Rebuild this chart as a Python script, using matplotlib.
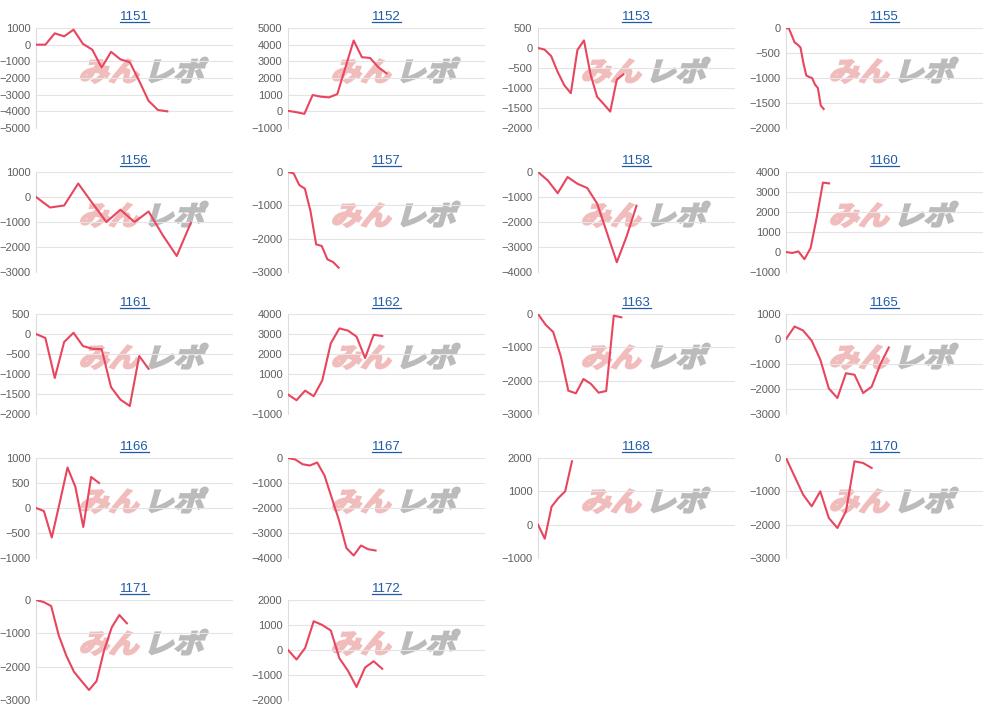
import matplotlib
matplotlib.use('Agg')
import matplotlib.pyplot as plt
import numpy as np
from matplotlib.textpath import TextPath
from matplotlib.patches import PathPatch
from matplotlib.font_manager import FontProperties
from matplotlib.transforms import Affine2D
from matplotlib.lines import Line2D

plt.rcParams['font.family'] = ['Liberation Sans', 'DejaVu Sans']

# machine numbers (panel titles)
titles = ['1151', '1152', '1153', '1155',
          '1156', '1157', '1158', '1160',
          '1161', '1162', '1163', '1165',
          '1166', '1167', '1168', '1170',
          '1171', '1172']

# cumulative difference per panel
s1151 = [0, 0, 680, 500, 900, 50, -300, -1380, -430, -880, -1050, -2180, -3370, -3920, -4000]
s1152 = [30, -50, -150, 980, 880, 840, 1030, 2640, 4250, 3250, 3200, 2650, 2280]
s1153 = [0, -40, -200, -600, -930, -1130, -50, 190, -660, -1220, -1400, -1590, -790, -660]
s1155 = [0, -10, -150, -290, -330, -390, -700, -950, -980, -1000, -1130, -1200, -1550, -1620]
s1156 = [0, -420, -340, 540, -240, -1000, -510, -1000, -580, -1520, -2360, -1040]
s1157 = [0, -40, -390, -500, -1180, -2170, -2220, -2620, -2700, -2870]
s1158 = [0, -340, -850, -200, -470, -640, -1260, -2430, -3610, -2570, -1350]
s1160 = [0, -50, 30, -360, 200, 1740, 3470, 3430]
s1161 = [0, -100, -1100, -200, 30, -300, -370, -380, -1330, -1640, -1800, -550, -870]
s1162 = [-30, -310, 170, -110, 680, 2540, 3280, 3170, 2870, 1800, 2960, 2900]
s1163 = [0, -320, -540, -1260, -2300, -2380, -1950, -2100, -2360, -2310, -50, -100]
s1165 = [0, 500, 340, -70, -820, -1980, -2360, -1370, -1430, -2160, -1910, -1020, -340]
s1166 = [0, -60, -590, 100, 810, 420, -380, 620, 500]
s1167 = [0, -60, -250, -300, -180, -700, -1600, -2500, -3600, -3900, -3500, -3650, -3700]
s1168 = [0, -420, 540, 800, 1000, 1900]
s1170 = [0, -550, -1100, -1450, -1000, -1800, -2100, -1600, -100, -150, -300]
s1171 = [0, -60, -180, -1060, -1670, -2150, -2430, -2700, -2430, -1500, -820, -450, -700]
s1172 = [0, -380, 80, 1150, 1000, 780, -330, -830, -1480, -700, -450, -750]

series = [s1151, s1152, s1153, s1155, s1156, s1157, s1158, s1160, s1161,
          s1162, s1163, s1165, s1166, s1167, s1168, s1170, s1171, s1172]

# y axis range and step per panel
y_lo = [-5000, -1000, -2000, -2000, -3000, -3000, -4000, -1000, -2000,
        -1000, -3000, -3000, -1000, -4000, -1000, -3000, -3000, -2000]
y_hi = [1000, 5000, 500, 0, 1000, 0, 0, 4000, 500,
        4000, 0, 1000, 1000, 0, 2000, 0, 0, 2000]
y_step = [1000, 1000, 500, 500, 1000, 1000, 1000, 1000, 500,
          1000, 1000, 1000, 500, 1000, 1000, 1000, 1000, 1000]
# number of x slots on each panel's axis
n_slots = [21, 24, 30, 68, 14, 35, 20, 32, 21, 23, 26, 23, 25, 27, 29, 23, 26, 23]

W, H = 1000, 709
fig = plt.figure(figsize=(W / 100, H / 100), dpi=100)
fig.patch.set_facecolor('white')

col_left = [36, 288, 538, 786]
row_top = [28, 172, 314, 458, 600]
pw, ph = 197, 100

line_col = '#e8455e'
title_col = '#1f5aa6'

mark_font = FontProperties(family='Noto Sans CJK JP', weight='bold')
p_min = TextPath((0, 0), 'みん', size=1, prop=mark_font)
p_rep = TextPath((0, 0), 'レポ', size=1, prop=mark_font)
to_fig = Affine2D().scale(1 / W, 1 / H) + fig.transFigure


def add_mark(cx, cy):
    # watermark, cx/cy in image pixels (y down)
    for path, dx, col in [(p_min, -62, '#f1bcbc'), (p_rep, 3, '#bbbbbb')]:
        tr = (Affine2D().scale(30, 27).skew_deg(16, 0)
              .translate(cx + dx - 2, H - cy - 10))
        fig.add_artist(PathPatch(path, transform=tr + to_fig,
                                 facecolor=col, edgecolor=col, lw=1.5,
                                 zorder=0.5))


title_texts = []
for i, (name, s) in enumerate(zip(titles, series)):
    r, c = divmod(i, 4)
    x0 = col_left[c]
    y0 = row_top[r]
    ax = fig.add_axes([x0 / W, 1 - (y0 + ph) / H, pw / W, ph / H])
    ax.set_zorder(1)
    ax.patch.set_alpha(0)

    add_mark(x0 + 0.54 * pw, y0 + 0.43 * ph)

    ax.plot(np.arange(len(s)), s, color=line_col, lw=1.5, zorder=3)

    ax.set_xlim(0, n_slots[i])
    ax.set_ylim(y_lo[i], y_hi[i])
    ax.set_yticks(np.arange(y_lo[i], y_hi[i] + 1, y_step[i]))
    ax.set_xticks([])
    ax.tick_params(axis='y', length=0, pad=4, labelsize=8, labelcolor='#5f5f5f')
    ax.yaxis.grid(True, color='#e4e4e4', lw=0.8)
    for side in ['top', 'right', 'bottom']:
        ax.spines[side].set_visible(False)
    ax.spines['left'].set_color('#dddddd')
    ax.spines['left'].set_linewidth(0.8)

    t = ax.set_title(name, color=title_col, fontsize=9.5, pad=6)
    title_texts.append(t)

# underline the titles (they look like links)
fig.canvas.draw()
for t in title_texts:
    bb = t.get_window_extent()
    yl = bb.y0 + 1
    fig.add_artist(Line2D([bb.x0 / W, bb.x1 / W], [yl / H, yl / H],
                          color=title_col, lw=0.9, zorder=2))

fig.savefig('out.png', dpi=100)
